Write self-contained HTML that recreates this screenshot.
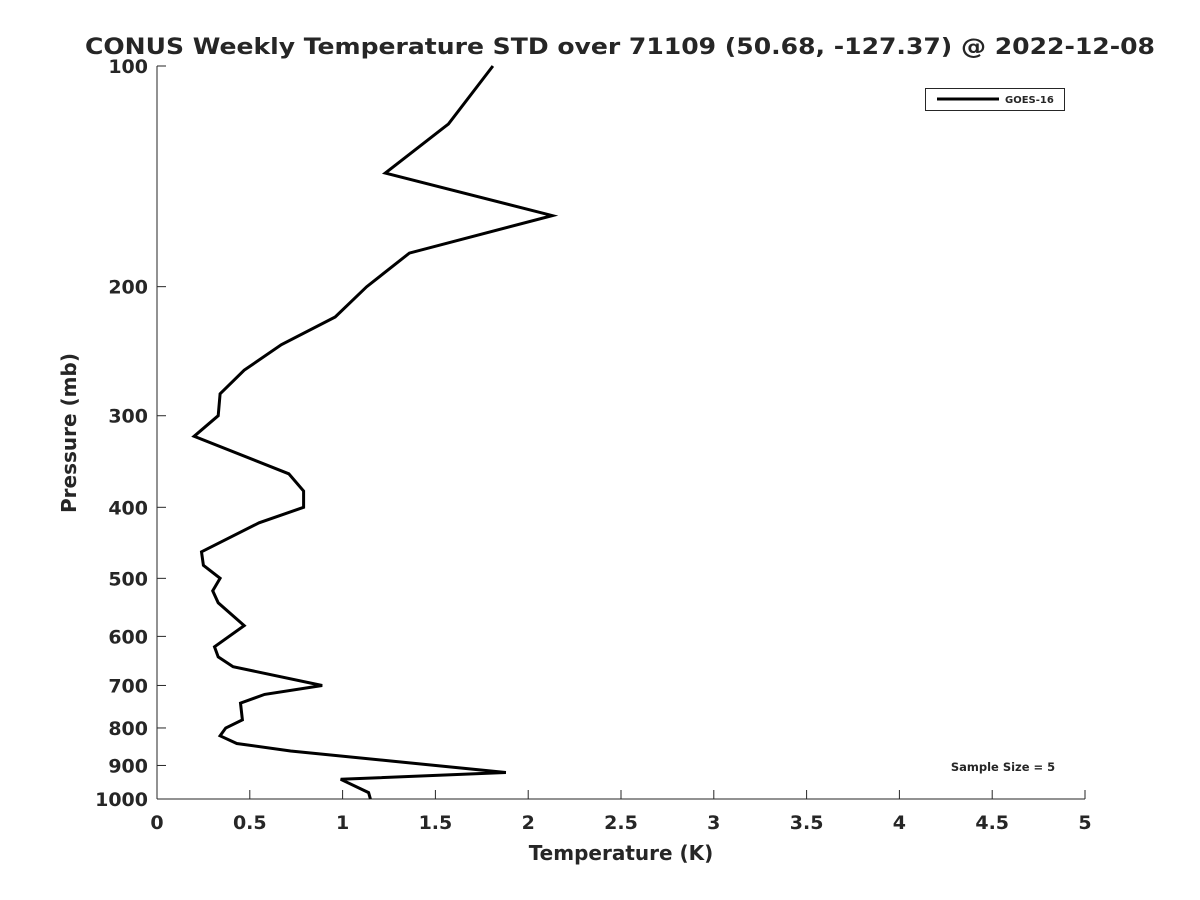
<!DOCTYPE html>
<html><head><meta charset="utf-8"><style>body{margin:0;background:#fff}svg{display:block}text{font-family:"DejaVu Sans","Liberation Sans",sans-serif;font-weight:bold;fill:#262626}</style></head>
<body>
<svg id="chart" width="1200" height="900" viewBox="0 0 1200 900" xmlns="http://www.w3.org/2000/svg">
<text x="620" y="54" text-anchor="middle" font-size="22" fill="#000" textLength="1070" lengthAdjust="spacingAndGlyphs">CONUS Weekly Temperature STD over 71109 (50.68, -127.37) @ 2022-12-08</text>
<g id="axes"></g>
<text x="621" y="860" text-anchor="middle" font-size="20">Temperature (K)</text>
<text transform="translate(76,433) rotate(-90)" text-anchor="middle" font-size="20">Pressure (mb)</text>
<g>
<rect x="925.5" y="88.5" width="139" height="22" fill="#fff" stroke="#262626" stroke-width="1"/>
<line x1="937" y1="99" x2="999" y2="99" stroke="#000" stroke-width="3"/>
<text x="1005" y="103" font-size="10">GOES-16</text>
</g>
<text x="1003" y="771" text-anchor="middle" font-size="11.5" fill="#000">Sample Size = 5</text>
</svg>
<script>
const pressures=[100,120,140,160,180,200,220,240,260,280,300,320,360,380,400,420,460,480,500,520,540,580,620,640,660,700,720,740,780,800,820,840,860,920,940,980,1000];
const stdValues=[1.81,1.57,1.23,2.13,1.36,1.13,0.96,0.67,0.47,0.34,0.33,0.20,0.71,0.79,0.79,0.55,0.24,0.25,0.34,0.30,0.33,0.47,0.31,0.33,0.41,0.89,0.58,0.45,0.46,0.37,0.34,0.43,0.72,1.88,0.99,1.14,1.15];
const xTicks=[0,0.5,1,1.5,2,2.5,3,3.5,4,4.5,5];
const xTickLabels=["0","0.5","1","1.5","2","2.5","3","3.5","4","4.5","5"];
const yTicks=[100,200,300,400,500,600,700,800,900,1000];
const yTickLabels=["100","200","300","400","500","600","700","800","900","1000"];
const X0=157,X1=1085,Y0=66,Y1=799,xMin=0,xMax=5,pMin=100,pMax=1000;
const xs=v=>X0+(v-xMin)/(xMax-xMin)*(X1-X0);
const ys=p=>Y0+(Math.log10(p)-Math.log10(pMin))/(Math.log10(pMax)-Math.log10(pMin))*(Y1-Y0);
const NS="http://www.w3.org/2000/svg";
const svg=document.getElementById('chart'),g=document.getElementById('axes');
function mk(t,a,parent){const e=document.createElementNS(NS,t);for(const k in a)e.setAttribute(k,a[k]);(parent||g).appendChild(e);return e;}
let e=mk('line',{x1:X0,y1:Y0,x2:X0,y2:Y1,stroke:'#262626','stroke-width':1});


e=mk('line',{x1:X0,y1:Y1,x2:X1,y2:Y1,stroke:'#262626','stroke-width':1});


xTicks.forEach((v,i)=>{const x=xs(v);
 let t=mk('line',{x1:x,y1:Y1,x2:x,y2:Y1-9,stroke:'#262626','stroke-width':1});
 
 
 let l=mk('text',{x:x,y:Y1+30,'text-anchor':'middle','font-size':19});l.textContent=xTickLabels[i];
 
 
});
yTicks.forEach((p,i)=>{const y=ys(p);
 let t=mk('line',{x1:X0,y1:y,x2:X0+9,y2:y,stroke:'#262626','stroke-width':1});
 
 
 let l=mk('text',{x:X0-9,y:y+7,'text-anchor':'end','font-size':19});l.textContent=yTickLabels[i];
 
 
});
const pts=pressures.map((p,i)=>xs(stdValues[i]).toFixed(1)+','+ys(p).toFixed(1)).join(' ');
const line=mk('polyline',{points:pts,fill:'none',stroke:'#000','stroke-width':3,'stroke-linejoin':'miter'},svg);


</script>
</body></html>
